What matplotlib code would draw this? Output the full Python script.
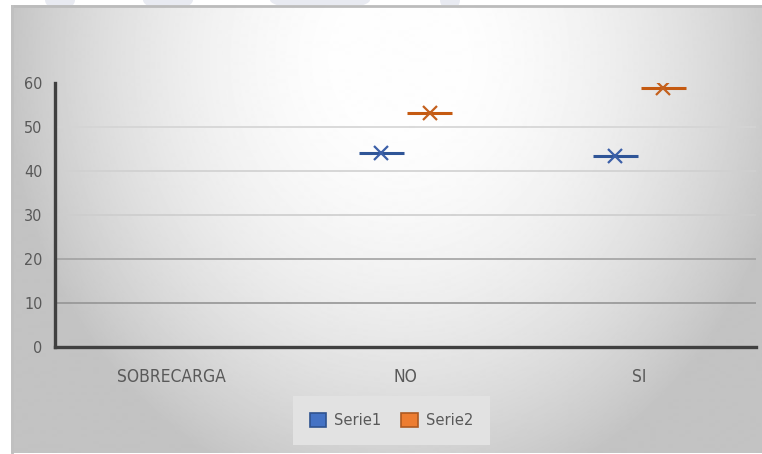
import numpy as np
import matplotlib.pyplot as plt
from matplotlib.patches import Patch, Ellipse

categories = ["SOBRECARGA", "NO", "SI"]
serie1 = [np.nan, 44.1, 43.4]
serie2 = [np.nan, 53.1, 58.8]
series_names = ["Serie1", "Serie2"]
yticks = [0, 10, 20, 30, 40, 50, 60]

plt.rcParams["font.family"] = ["DejaVu Sans"]
plt.rcParams["font.stretch"] = "condensed"

W, H = 762, 454
fig = plt.figure(figsize=(W / 100, H / 100), dpi=100)
fig.patch.set_facecolor("white")

# faint watermark shapes in the strip above the chart
for cx, w in [(60, 30), (168, 50), (320, 100), (450, 20)]:
    fig.patches.append(Ellipse((cx / W, 1.0), w / W, 20 / H, transform=fig.transFigure,
                               facecolor="#e8eaf1", edgecolor="none", zorder=0))

# chart area with radial grey gradient
bg = fig.add_axes([11 / W, 0, (W - 11) / W, (H - 5) / H], zorder=1)
bw, bh = W - 11, H - 5
xx, yy = np.meshgrid(np.arange(bw), np.arange(bh))
shade = 1.5e-6 * (xx - 389.0) ** 2 + 1.15e-6 * (yy - 55.0) ** 2
img = np.clip(1 - shade, 0.765, 0.995)
bg.imshow(img, cmap="gray", vmin=0, vmax=1, aspect="auto", interpolation="bilinear")
bg.set_axis_off()
bg.plot([0, bw], [0.5, 0.5], color="#bcbcbc", lw=2)
bg.plot([0.5, 0.5], [0, bh], color="#c0c0c0", lw=2)
bg.set_xlim(0, bw)
bg.set_ylim(bh, 0)

ax = fig.add_axes([55 / W, (H - 347) / H, (756 - 55) / W, (347 - 82.7) / H], zorder=2)
ax.patch.set_alpha(0)

x = np.arange(len(categories))
grid_colors = {10: "#959595", 20: "#a2a2a2", 30: "#cdcdcd", 40: "#d0d0d0", 50: "#d4d4d4"}
for v, c in grid_colors.items():
    ax.axhline(v, color=c, lw=1.2, zorder=1)

colors = [("#2f5597", "#3b5fa8"), ("#c55a11", "#c4601d")]
offset = 0.103
half = 0.096
for i, vals in enumerate([serie1, serie2]):
    xs = x + (offset if i else -offset)
    lc, mc = colors[i]
    ax.hlines(vals, xs - half, xs + half, color=lc, lw=2.2, zorder=3)
    ax.plot(xs, vals, ls="none", marker="x", ms=9.5, mew=1.6, color=mc, zorder=4)

ax.set_xlim(-0.5, len(categories) - 0.5)
ax.set_ylim(0, 60)
ax.set_yticks(yticks)
ax.set_xticks(x)
ax.set_xticklabels(categories)
for s in ["top", "right"]:
    ax.spines[s].set_visible(False)
for s in ["left", "bottom"]:
    ax.spines[s].set_color("#404040")
    ax.spines[s].set_linewidth(2.4)
ax.tick_params(axis="both", length=0, labelcolor="#595959")
ax.tick_params(axis="y", pad=9, labelsize=11.5)
ax.tick_params(axis="x", pad=15, labelsize=12.5)

handles = [Patch(facecolor="#4472c4", edgecolor="#2f528f", lw=1.2),
           Patch(facecolor="#ed7d31", edgecolor="#ae5a21", lw=1.2)]
leg = fig.legend(handles, series_names, loc="center", bbox_to_anchor=(391.5 / W, (H - 420.5) / H),
                 ncol=2, frameon=True, fontsize=11.8, handlelength=1.0, handleheight=1.0,
                 handletextpad=0.5, columnspacing=1.2, borderpad=1.0, fancybox=False)
leg.get_frame().set_facecolor("#e2e2e2")
leg.get_frame().set_edgecolor("none")
leg.get_frame().set_alpha(1)
for t in leg.get_texts():
    t.set_color("#595959")
leg.set_zorder(5)

fig.savefig("out.png", dpi=100)
